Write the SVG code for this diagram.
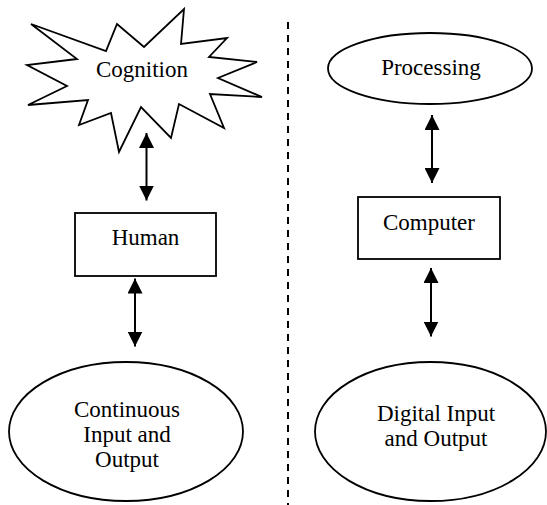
<svg xmlns="http://www.w3.org/2000/svg" width="547" height="505" viewBox="0 0 547 505">
  <style>
    .shape { fill: #ffffff; stroke: #000000; stroke-width: 1.8; }
    .label { font-family: 'Liberation Serif', 'Times New Roman', Times, 'DejaVu Serif', serif; font-size: 23px; fill: #000000; text-anchor: middle; }
    .link { stroke: #000000; stroke-width: 2; fill: none; marker-start: url(#head); marker-end: url(#head); }
    .divider { stroke: #000000; stroke-width: 2; stroke-dasharray: 7 6; fill: none; }
  </style>
  <defs>
    <marker id="head" viewBox="0 0 15 15" refX="15" refY="7.5" markerWidth="15" markerHeight="15" markerUnits="userSpaceOnUse" orient="auto-start-reverse">
      <path d="M0,0 L15,7.5 L0,15 Z" fill="#000000"/>
    </marker>
  </defs>
  <rect width="547" height="505" fill="#ffffff"/>

  <!-- vertical separator between the two columns -->
  <line class="divider" x1="288" y1="22" x2="288" y2="505"/>

  <g id="cognition">
    <polygon class="shape" points="31,24 106,51 117,24 144,47 184,9 181,44 227,38 209,57 257,62 218,78 262,97 210,94 224,128 179,104 171,138 141,107 119,152 111,113 79,125 88,100 28,105 67,86 27,65 77,59"/>
    <text class="label" x="142" y="77" font-family="Liberation Serif, serif">Cognition</text>
  </g>

  <g id="human">
    <rect class="shape" x="75" y="213" width="141" height="63"/>
    <text class="label" x="145.5" y="245">Human</text>
  </g>

  <g id="continuous-io">
    <ellipse class="shape" cx="126" cy="431.5" rx="117" ry="69.5"/>
    <text class="label" x="127" y="417">Continuous</text>
    <text class="label" x="127" y="442">Input and</text>
    <text class="label" x="127" y="467">Output</text>
  </g>

  <g id="processing">
    <ellipse class="shape" cx="430" cy="68.5" rx="102" ry="35.5"/>
    <text class="label" x="431" y="75">Processing</text>
  </g>

  <g id="computer">
    <rect class="shape" x="358" y="197" width="142" height="62"/>
    <text class="label" x="429" y="230">Computer</text>
  </g>

  <g id="digital-io">
    <ellipse class="shape" cx="430.5" cy="431.5" rx="115.5" ry="69.5"/>
    <text class="label" x="436" y="421">Digital Input</text>
    <text class="label" x="436" y="446">and Output</text>
  </g>

  <g id="connectors">
    <line class="link" x1="146.5" y1="133" x2="146.5" y2="200.5"/>
    <line class="link" x1="135" y1="278.5" x2="135" y2="346.5"/>
    <line class="link" x1="432" y1="115" x2="432" y2="183"/>
    <line class="link" x1="431" y1="268" x2="431" y2="336.5"/>
  </g>
</svg>
